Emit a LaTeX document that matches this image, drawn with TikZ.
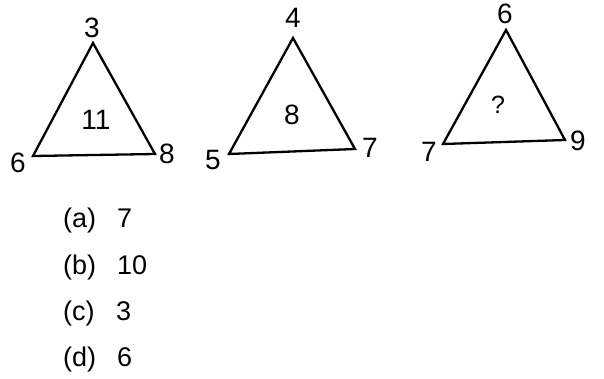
\documentclass[tikz,border=0pt]{standalone}
\usepackage{fontspec}
\setmainfont{Liberation Sans}
\begin{document}
\begin{tikzpicture}[x=1pt,y=-1pt,
  tri/.style={line width=2.3pt,line join=miter},
  num/.style={font=\fontsize{28}{28}\selectfont,inner sep=0pt},
  opt/.style={font=\fontsize{27}{27}\selectfont,inner sep=0pt,anchor=base west}]
\useasboundingbox (0,0) rectangle (604,379);
% triangle 1
\coordinate (a1) at (93,43);
\coordinate (b1) at (33,156);
\coordinate (c1) at (155,154);
\draw[tri] (a1) -- (b1) -- (c1) -- cycle;
\node[num] (t1) at (92,28) {3};
\node[num] (l1) at (18,163) {6};
\node[num] (r1) at (167,154) {8};
\node[num] (m1) at (96,120) {11};
% triangle 2
\coordinate (a2) at (293,38);
\coordinate (b2) at (229,154);
\coordinate (c2) at (355,149);
\draw[tri] (a2) -- (b2) -- (c2) -- cycle;
\node[num] (t2) at (293,18) {4};
\node[num] (l2) at (213,160) {5};
\node[num] (r2) at (370,148) {7};
\node[num] (m2) at (292,115) {8};
% triangle 3
\coordinate (a3) at (506,30);
\coordinate (b3) at (443,144);
\coordinate (c3) at (565,140);
\draw[tri] (a3) -- (b3) -- (c3) -- cycle;
\node[num] (t3) at (505,14) {6};
\node[num] (l3) at (429,152) {7};
\node[num] (r3) at (578,141) {9};
\node[num,font=\fontsize{25}{25}\selectfont] (m3) at (498,105) {?};
% options
\node[opt] (oa) at (63,227) {(a)};
\node[opt] (va) at (117,227) {7};
\node[opt] (ob) at (63,274) {(b)};
\node[opt] (vb) at (117,274) {10};
\node[opt] (oc) at (63,320) {(c)};
\node[opt] (vc) at (116,320) {3};
\node[opt] (od) at (63,366) {(d)};
\node[opt] (vd) at (117,366) {6};
\end{tikzpicture}
\end{document}
